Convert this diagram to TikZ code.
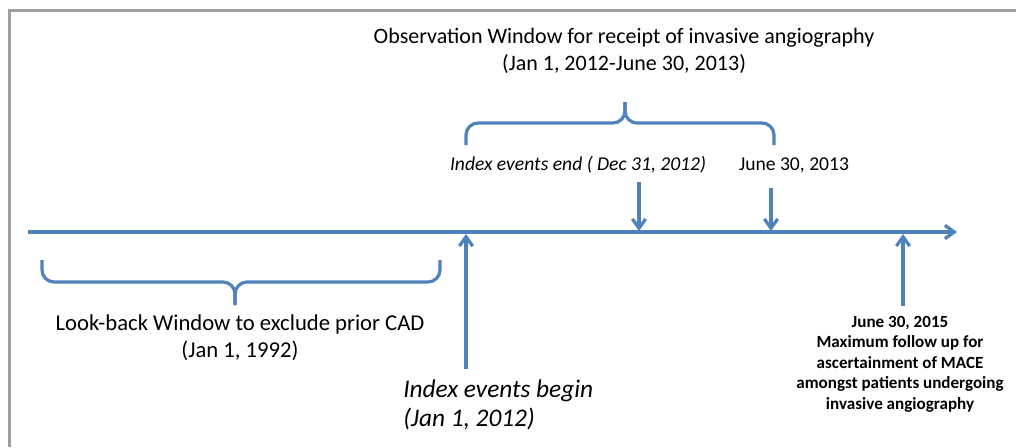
\documentclass[tikz,border=0pt]{standalone}
\usepackage{fontspec}
\setmainfont{Carlito}
\usetikzlibrary{arrows.meta}
\definecolor{lineblue}{RGB}{79,129,189}
\definecolor{framegray}{RGB}{158,158,163}

\begin{document}
\begin{tikzpicture}[x=0.75pt, y=-0.75pt, every node/.style={inner sep=0pt, align=center},
  arr/.style={draw=lineblue, line width=2.4pt, -{Straight Barb[length=7pt, width=10pt]}},
  brc/.style={draw=lineblue, line width=2.4pt, rounded corners=9pt}]
\useasboundingbox (0,0) rectangle (1016,447);
\draw[framegray, line width=2.6pt] (9.5,447) -- (9.5,10.5) -- (1016,10.5);

\coordinate (tstart) at (28,232);
\coordinate (tend) at (957,232);
\coordinate (obsL) at (466,145);
\coordinate (obsR) at (774,145);
\coordinate (obsM) at (625,123);
\coordinate (obsT) at (625,102);
\coordinate (lbL) at (42,260);
\coordinate (lbR) at (440,260);
\coordinate (lbM) at (235,282);
\coordinate (lbT) at (235,305);
\coordinate (endtop) at (639,182);
\coordinate (endtip) at (639,231);
\coordinate (jtop) at (771,188);
\coordinate (jtip) at (771,231);
\coordinate (begbot) at (466,369);
\coordinate (begtip) at (466,234);
\coordinate (maxbot) at (903,306);
\coordinate (maxtip) at (903,234);

\node (obs) at (624,51) [font=\fontsize{16.5}{20.25}\selectfont] {Observation Window for receipt of invasive angiography\\(Jan 1, 2012-June 30, 2013)};
\node (iend) at (578,165) [font=\fontsize{14.7}{16}\selectfont\itshape] {Index events end ( Dec 31, 2012)};
\node (j13) at (794,165) [font=\fontsize{14.7}{16}\selectfont] {June 30, 2013};
\node (lookback) at (240,338) [font=\fontsize{17}{20.25}\selectfont] {Look-back Window to exclude prior CAD\\(Jan 1, 1992)};
\node (ibegin) at (403,405) [anchor=west, align=left, font=\fontsize{19}{21.75}\selectfont\itshape] {Index events begin\\(Jan 1, 2012)};
\node (maxfu) at (900,364) [font=\fontsize{12.8}{15.4}\selectfont\bfseries] {June 30, 2015\\Maximum follow up for\\ascertainment of MACE\\amongst patients undergoing\\invasive angiography};

\draw[arr] (tstart) -- (tend);
\draw[brc] (obsL) |- (obsM) -- (obsT);
\draw[brc] (obsR) |- (obsM) -- (obsT);
\draw[brc] (lbL) |- (lbM) -- (lbT);
\draw[brc] (lbR) |- (lbM) -- (lbT);
\draw[arr] (endtop) -- (endtip);
\draw[arr] (jtop) -- (jtip);
\draw[arr] (begbot) -- (begtip);
\draw[arr] (maxbot) -- (maxtip);
\end{tikzpicture}
\end{document}
